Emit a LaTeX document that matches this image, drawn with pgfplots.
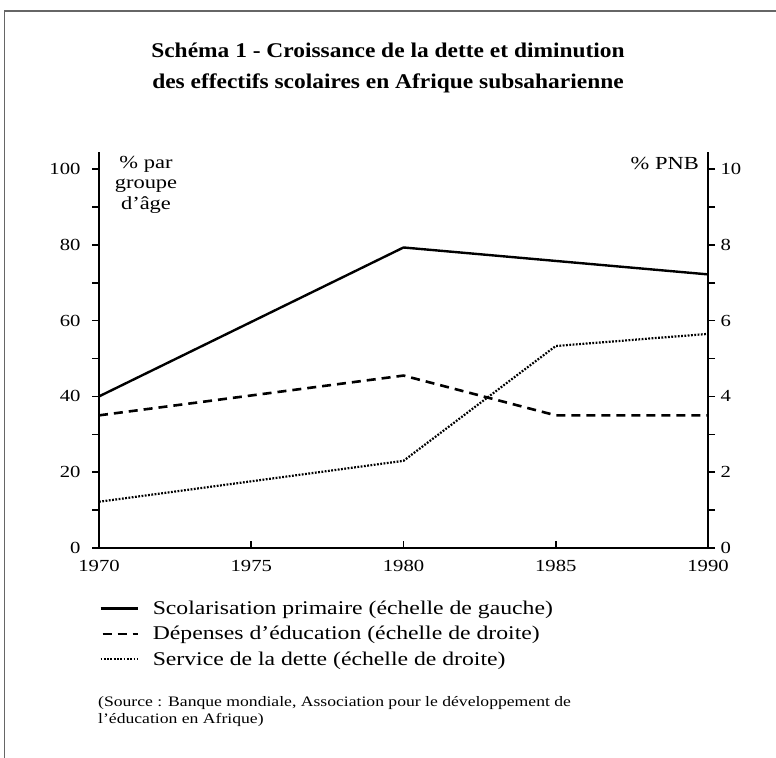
\documentclass[border=0pt]{standalone}
\usepackage{fontspec}
\setmainfont{Liberation Serif}[FakeStretch=1.12]
\newfontfamily\legfont{Liberation Serif}[FakeStretch=1.22]
\usepackage{pgfplots}
\pgfplotsset{compat=1.18}
\begin{document}
\begin{tikzpicture}[x=1bp,y=1bp]
\path[use as bounding box] (0,0) rectangle (776,758);
\draw[black!60, line width=1.8bp] (776,747) -- (4.5,747) -- (4.5,0);
\node[align=center, font=\fontsize{21}{31.5}\selectfont\bfseries] at (388,690)
  {Schéma 1 - Croissance de la dette et diminution\\des effectifs scolaires en Afrique subsaharienne};
\begin{axis}[
  at={(99bp,210bp)}, anchor=south west,
  scale only axis, width=609bp, height=396bp,
  xmin=1970, xmax=1990, ymin=0, ymax=104.5,
  axis y line*=left, axis x line*=bottom,
  axis line style={line width=2.2bp},
  xtick={1970,1975,...,1990},
  xticklabel style={/pgf/number format/1000 sep={}, yshift=-9bp},
  yticklabel style={xshift=-8bp},
  ytick={0,20,...,100}, minor ytick={10,30,...,90},
  x tick style={line width=1.6bp, black},
  y tick style={line width=1.6bp, black},
  xtick align=inside, ytick align=outside,
  major tick length=7bp, minor tick length=7bp,
  /pgf/number format/assume math mode=true,
  tick label style={font=\legfont\fontsize{17}{19}\selectfont},
  legend style={at={(axis description cs:0,-0.128)}, anchor=north west,
    draw=none, fill=none, font=\legfont\fontsize{19.5}{22}\selectfont,
    row sep=6.5bp, inner sep=0pt, cells={anchor=west},
    legend image code/.code={\draw[#1] (0bp,0bp) -- (37bp,0bp);}},
  legend cell align=left,
  clip=false,
]
\addplot[black, line width=2.4bp] coordinates {(1970,40) (1980,79.3) (1990,72.2)};
\addlegendentry{\hspace{12bp}Scolarisation primaire (échelle de gauche)}
\addlegendimage{black, line width=2.6bp, dash pattern=on 9bp off 6bp, dash phase=-2bp}
\addlegendentry{\hspace{12bp}Dépenses d’éducation (échelle de droite)}
\addlegendimage{black, line width=2.2bp, dash pattern=on 1.8bp off 1.5bp}
\addlegendentry{\hspace{12bp}Service de la dette (échelle de droite)}
\end{axis}
\begin{axis}[
  at={(99bp,210bp)}, anchor=south west,
  scale only axis, width=609bp, height=396bp,
  xmin=1970, xmax=1990, ymin=0, ymax=10.45,
  axis y line*=right, axis x line=none,
  axis line style={line width=2.2bp},
  ytick={0,2,...,10}, minor ytick={1,3,...,9},
  y tick style={line width=1.6bp, black},
  yticklabel style={xshift=2bp},
  ytick align=outside,
  major tick length=7bp, minor tick length=7bp,
  /pgf/number format/assume math mode=true,
  tick label style={font=\legfont\fontsize{17}{19}\selectfont},
  clip=false,
]
\addplot[black, line width=2.6bp, dash pattern=on 9bp off 6bp] coordinates {(1970,3.5) (1980,4.55) (1985,3.5) (1990,3.5)};
\addplot[black, line width=2.2bp, dash pattern=on 1.8bp off 1.5bp] coordinates {(1970,1.22) (1980,2.3) (1985,5.33) (1990,5.65)};
\end{axis}
\node[align=center, font=\legfont\fontsize{18.5}{20.5}\selectfont, anchor=north, inner sep=0pt] at (146,602) {\% par\\groupe\\d’âge};
\node[font=\legfont\fontsize{18.5}{20.5}\selectfont, anchor=north east, inner sep=0pt] at (699,601) {\% PNB};
\node[align=left, anchor=north west, inner sep=0pt, font=\legfont\fontsize{14.5}{17.5}\selectfont] at (98,62)
  {(Source : Banque mondiale, Association pour le développement de\\l’éducation en Afrique)};
\end{tikzpicture}
\end{document}
